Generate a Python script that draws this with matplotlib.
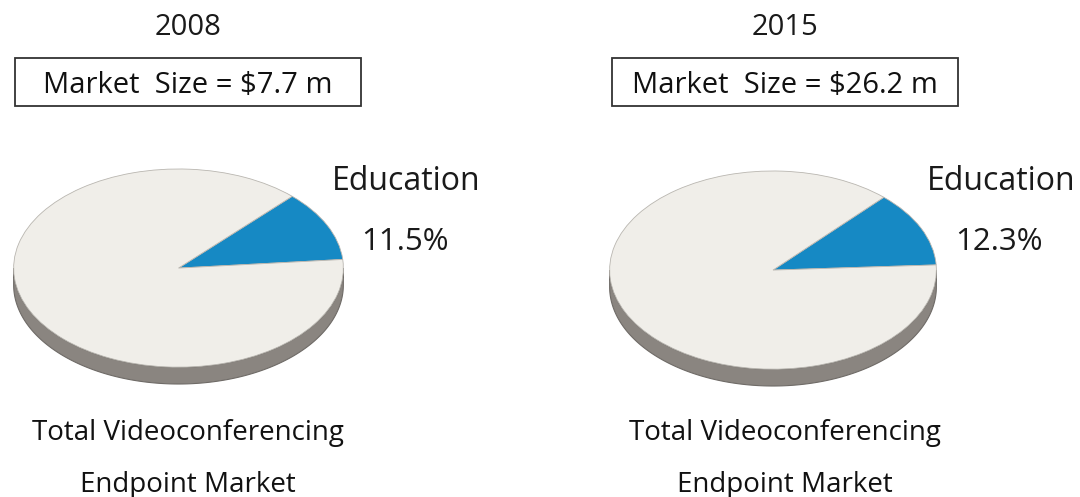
import numpy as np
import matplotlib
matplotlib.use("Agg")
import matplotlib.pyplot as plt
from matplotlib.patches import Rectangle, Polygon

plt.rcParams['font.family'] = ['Open Sans', 'DejaVu Sans']

years = ["2008", "2015"]
market_sizes = ["$7.7 m", "$26.2 m"]
education_share = [11.5, 12.3]
segment_label = "Education"
bottom_label = ["Total Videoconferencing", "Endpoint Market"]

W, H = 1080, 497
fig = plt.figure(figsize=(W / 100, H / 100), dpi=100)
bg = fig.add_axes([0, 0, 1, 1])
bg.set_xlim(0, W)
bg.set_ylim(H, 0)
bg.axis("off")

TOP = "#f0eee9"
BLUE = "#1689c4"
SIDE = "#8a8580"

panels = [
    dict(cx=188, pie=(12, 168, 345, 385), edu_x=406, pct_x=405, start=5),
    dict(cx=785, pie=(608, 170, 938, 387), edu_x=1001, pct_x=999, start=3),
]

for i, p in enumerate(panels):
    cx = p["cx"]
    bg.text(cx, 35, years[i], ha="center", va="baseline", fontsize=21, color="#1a1a1a")
    bx0 = cx - 173
    bg.add_patch(Rectangle((bx0, 58), 346, 48, fill=False, ec="#333333", lw=1.3))
    bg.text(cx, 93, "Market  Size = " + market_sizes[i], ha="center", va="baseline",
            fontsize=21, color="#111111")
    bg.text(p["edu_x"], 190, segment_label, ha="center", va="baseline", fontsize=23, color="#1a1a1a")
    bg.text(p["pct_x"], 250, f"{education_share[i]}%", ha="center", va="baseline",
            fontsize=22.5, color="#1a1a1a")
    bg.text(cx, 440, bottom_label[0], ha="center", va="baseline", fontsize=20, color="#111111")
    bg.text(cx, 492, bottom_label[1], ha="center", va="baseline", fontsize=20, color="#111111")

    x0, y0, x1, y1 = p["pie"]
    ax = fig.add_axes([x0 / W, 1 - y1 / H, (x1 - x0) / W, (y1 - y0) / H])
    d = 0.17
    t = np.linspace(np.pi, 2 * np.pi, 200)
    xs = np.concatenate([np.cos(t), np.cos(t[::-1])])
    ys = np.concatenate([np.sin(t), np.sin(t[::-1]) - d])
    ax.add_patch(Polygon(np.column_stack([xs, ys]), closed=True, fc=SIDE, ec="#6f6b67", lw=0.8, zorder=1))
    vals = [education_share[i], 100 - education_share[i]]
    wedges, _ = ax.pie(vals, colors=[BLUE, TOP], startangle=p["start"], counterclock=True,
                       radius=1, center=(0, 0), frame=False,
                       wedgeprops=dict(edgecolor="#b9b6b0", linewidth=0.6))
    for w in wedges:
        w.set_zorder(2)
    ax.set_aspect("auto")
    ax.set_xlim(-1.01, 1.01)
    ax.set_ylim(-1 - d - 0.01, 1.01)
    ax.axis("off")

fig.savefig("out.png", dpi=100)
